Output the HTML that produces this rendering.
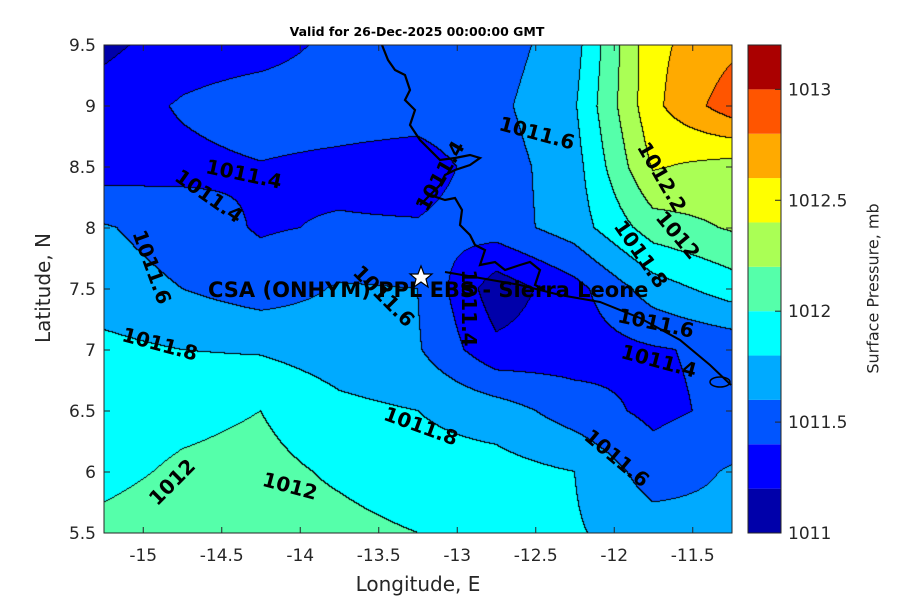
<!DOCTYPE html>
<html><head><meta charset="utf-8"><style>
body{margin:0;background:#fff;width:900px;height:600px;position:relative;overflow:hidden;font-family:"DejaVu Sans","Liberation Sans",sans-serif;}
.abs{position:absolute;}
.clab{position:absolute;font-weight:bold;font-size:20px;color:#000;white-space:nowrap;transform-origin:center center;font-family:"DejaVu Sans",sans-serif;}
</style></head><body>
<div class="abs" style="left:0;width:834px;top:24px;text-align:center;font-weight:bold;font-size:12.5px;">Valid for 26-Dec-2025 00:00:00 GMT</div>
<canvas id="map" width="628" height="488" style="position:absolute;left:104px;top:45px;"></canvas>
<svg id="ov" class="abs" style="left:0;top:0" width="900" height="600"></svg>
<div id="labels"></div>
<div class="abs" style="left:104px;width:628px;top:572px;text-align:center;font-size:20px;color:#262626;">Longitude, E</div>
<div class="abs" style="left:-22px;top:276px;width:130px;text-align:center;font-size:20px;color:#262626;transform:rotate(-90deg);">Latitude, N</div>
<div class="abs" style="left:773px;top:279px;width:200px;text-align:center;font-size:16px;color:#262626;transform:rotate(-90deg);">Surface Pressure, mb</div>
<script>
const lons=[-15.25,-14.75,-14.25,-13.75,-13.25,-12.75,-12.25,-11.75,-11.25];
const lats=[9.5,9.0,8.5,8.0,7.5,7.0,6.5,6.0,5.5];
const row95=[1011.15,1011.3,1011.32,1011.45,1011.6,1011.5,1011.72,1012.55,1012.75];
const row90=[1011.3,1011.42,1011.5,1011.5,1011.5,1011.55,1011.78,1012.55,1012.92];
const row85=[1011.3,1011.35,1011.39,1011.35,1011.3,1011.5,1011.72,1012.42,1012.32];
const row80=[1011.62,1011.5,1011.38,1011.42,1011.42,1011.5,1011.7,1012.1,1012.22];
const row75=[1011.7,1011.6,1011.5,1011.62,1011.6,1011.08,1011.33,1011.7,1011.9];
const row70=[1011.85,1011.8,1011.78,1011.7,1011.62,1011.25,1011.3,1011.38,1011.45];
const row65=[1011.9,1011.95,1012.0,1011.85,1011.8,1011.7,1011.5,1011.35,1011.45];
const row60=[1011.95,1012.03,1012.06,1011.97,1011.88,1011.88,1011.8,1011.5,1011.62];
const row55=[1012.05,1012.1,1012.08,1012.06,1012.0,1011.88,1011.82,1011.7,1011.65];
const grid=[row95,row90,row85,row80,row75,row70,row65,row60,row55];
const levels=[1011.0,1011.2,1011.4,1011.6,1011.8,1012.0,1012.2,1012.4,1012.6,1012.8,1013.0,1013.2];
const colors=["#0000aa","#0000ff","#0055ff","#00aaff","#00ffff","#55ffaa","#aaff55","#ffff00","#ffaa00","#ff5500","#aa0000"];
const tickX=[-15,-14.5,-14,-13.5,-13,-12.5,-12,-11.5];
const tickY=[9.5,9,8.5,8,7.5,7,6.5,6,5.5];
const cbTicks=[1011,1011.5,1012,1012.5,1013];
const lon0=-15.25,lon1=-11.25,lat0=5.5,lat1=9.5;
const PX=104,PY=45,PW=628,PH=488;
function xs(lon){return PX+(lon-lon0)/(lon1-lon0)*PW;}
function ys(lat){return PY+(lat1-lat)/(lat1-lat0)*PH;}
function val(lon,lat){
  let fx=(lon-lons[0])/(lons[1]-lons[0]), fy=(lats[0]-lat)/(lats[0]-lats[1]);
  let i=Math.min(Math.max(Math.floor(fx),0),lons.length-2), j=Math.min(Math.max(Math.floor(fy),0),lats.length-2);
  let tx=fx-i, ty=fy-j;
  let a=grid[j][i],b=grid[j][i+1],c=grid[j+1][i],d=grid[j+1][i+1];
  return a*(1-tx)*(1-ty)+b*tx*(1-ty)+c*(1-tx)*ty+d*tx*ty;
}
function band(v){let k=0;while(k<levels.length-2&&v>=levels[k+1])k++;return k;}
const cv=document.getElementById('map');const ctx=cv.getContext('2d');
const img=ctx.createImageData(PW,PH);const B=new Int16Array(PW*PH);
for(let y=0;y<PH;y++)for(let x=0;x<PW;x++){
  const lon=lon0+(x+0.5)/PW*(lon1-lon0), lat=lat1-(y+0.5)/PH*(lat1-lat0);
  B[y*PW+x]=band(val(lon,lat));
}
function hex(h){return [parseInt(h.substr(1,2),16),parseInt(h.substr(3,2),16),parseInt(h.substr(5,2),16)];}
const rgb=colors.map(hex);
for(let y=0;y<PH;y++)for(let x=0;x<PW;x++){
  const k=B[y*PW+x];let c=rgb[k];
  const edge=(x<PW-1&&B[y*PW+x+1]!==k)||(y<PH-1&&B[(y+1)*PW+x]!==k);
  if(edge)c=[0,0,0];
  const p=(y*PW+x)*4;img.data[p]=c[0];img.data[p+1]=c[1];img.data[p+2]=c[2];img.data[p+3]=255;
}
ctx.putImageData(img,0,0);
const NS='http://www.w3.org/2000/svg';const ov=document.getElementById('ov');
function el(t,a){const e=document.createElementNS(NS,t);for(const k in a)e.setAttribute(k,a[k]);ov.appendChild(e);return e;}
let coast=el('path',{d:'M382,45 L388,60 L395,70 L405,75 L410,90 L405,100 L415,110 L410,125 L420,140 L430,150 L440,160 L455,158 L470,155 L480,158 L470,165 L455,170 L445,175 L440,185 L430,195 L420,205 L430,195 L445,200 L455,198 L462,210 L460,225 L470,235 L475,245 L485,250 L480,265 L495,262 L505,270 L520,265 L530,262 L540,270 L535,285 L545,290',fill:'none',stroke:'#000','stroke-width':2.2});


let track=el('path',{d:'M445,272 L480,278 L520,285 L560,295 L600,302 L640,318 L680,340 L710,365 L731,385',fill:'none',stroke:'#000','stroke-width':2});


el('ellipse',{cx:720,cy:382,rx:10,ry:5,fill:'none',stroke:'#000','stroke-width':1.5});
let fr=el('rect',{x:PX,y:PY,width:PW,height:PH,fill:'none',stroke:'#262626','stroke-width':1});


for(const t of tickX){
  const x=xs(t);
  el('line',{x1:x,y1:PY+PH,x2:x,y2:PY+PH-6,stroke:'#262626'});el('line',{x1:x,y1:PY,x2:x,y2:PY+6,stroke:'#262626'});
  const tx=el('text',{x:x,y:561,'text-anchor':'middle','font-size':17,fill:'#262626','font-family':'DejaVu Sans'});tx.textContent=t;
  
  
}
for(const t of tickY){
  const y=ys(t);
  el('line',{x1:PX,y1:y,x2:PX+6,y2:y,stroke:'#262626'});el('line',{x1:PX+PW,y1:y,x2:PX+PW-6,y2:y,stroke:'#262626'});
  const ty=el('text',{x:96,y:y+6,'text-anchor':'end','font-size':17,fill:'#262626','font-family':'DejaVu Sans'});ty.textContent=t;
  
  
}
const CBX=748,CBW=33,cbY=v=>533-(v-levels[0])/(levels[levels.length-1]-levels[0])*488;
for(let k=0;k<colors.length;k++){
  const r=el('rect',{x:CBX,y:cbY(levels[k+1]),width:CBW,height:cbY(levels[k])-cbY(levels[k+1]),fill:colors[k]});
  
  
}
el('rect',{x:CBX,y:45,width:CBW,height:488,fill:'none',stroke:'#262626'});
for(const t of cbTicks){
  const y=cbY(t);el('line',{x1:CBX+CBW-6,y1:y,x2:CBX+CBW,y2:y,stroke:'#262626'});
  const tt=el('text',{x:788,y:y+6,'font-size':17,fill:'#262626','font-family':'DejaVu Sans'});tt.textContent=t;
  
  
}
let st=el('polygon',{points:'421,266 424,274 432,274 426,279 428,287 421,282 414,287 416,279 410,274 418,274',fill:'#fff',stroke:'#000','stroke-width':1.2});


const labs=[["1011.4",244,175,12],["1011.4",209,197,35],["1011.6",152,268,70],["1011.8",160,345,15],["1012",172,483,-45],["1012",290,487,15],["1011.8",421,427,20],["1011.6",384,297,45],["1011.4",440,177,-60],["1011.4",469,309,90],["1011.6",537,134,15],["1012.2",662,178,60],["1012",678,236,50],["1011.8",641,255,55],["1011.6",656,324,12],["1011.4",659,362,15],["1011.6",617,459,40]];
const L=document.getElementById('labels');
for(const [t,x,y,r] of labs){
  const d=document.createElement('div');d.className='clab';d.textContent=t;
  
  
  d.style.left=(x-45)+'px';d.style.top=(y-13)+'px';d.style.width='90px';d.style.textAlign='center';d.style.transform='rotate('+r+'deg)';
  L.appendChild(d);
}
const s=document.createElement('div');s.className='clab';s.textContent='CSA (ONHYM) PPL EBS - Sierra Leone';


s.style.left='208px';s.style.top='278px';s.style.fontSize='21px';
L.appendChild(s);
</script>
</body></html>
